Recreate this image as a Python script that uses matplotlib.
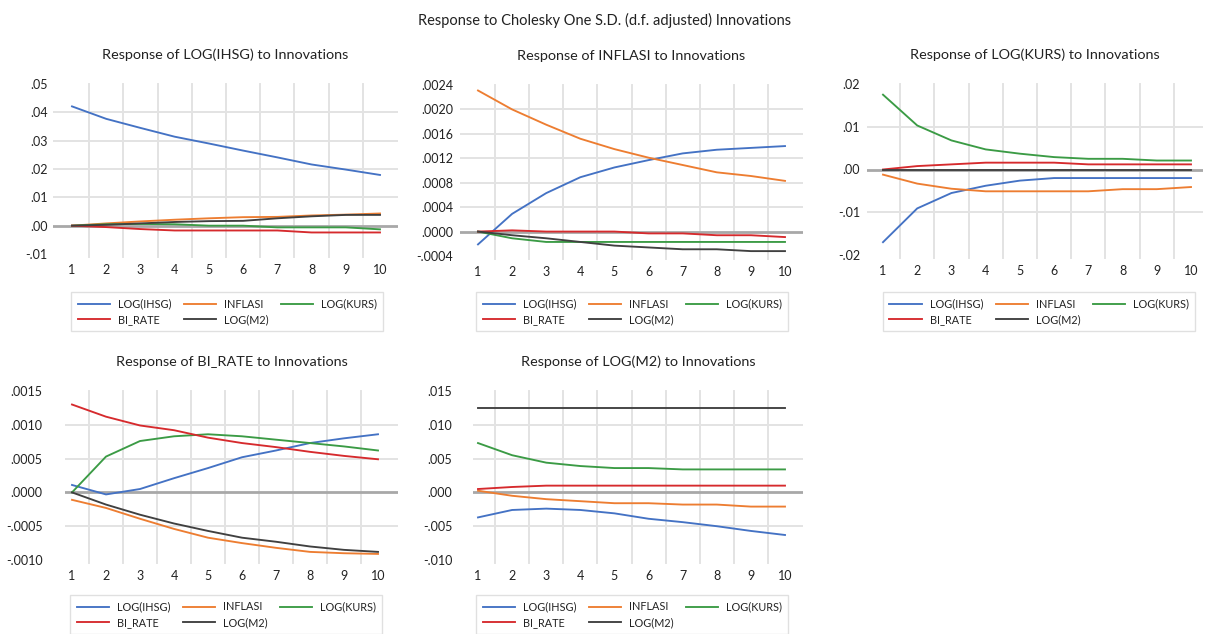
import matplotlib
matplotlib.use("Agg")
import matplotlib.pyplot as plt

plt.rcParams['font.family'] = ['Lato', 'DejaVu Sans']

periods = [1, 2, 3, 4, 5, 6, 7, 8, 9, 10]
shock_names = ["LOG(IHSG)", "INFLASI", "LOG(KURS)", "BI_RATE", "LOG(M2)"]
colors = ["#4472C4", "#ED7D31", "#3B9B45", "#D62A2D", "#404040"]

# Response of LOG(IHSG)
ihsg_ihsg = [0.0421, 0.0377, 0.0345, 0.0314, 0.0290, 0.0265, 0.0241, 0.0216, 0.0198, 0.0179]
ihsg_infl = [0.0, 0.0008, 0.0015, 0.0021, 0.0026, 0.0030, 0.0031, 0.0036, 0.0039, 0.0043]
ihsg_kurs = [0.0, 0.0005, 0.0006, 0.0005, 0.0, 0.0, -0.0006, -0.0006, -0.0006, -0.0013]
ihsg_bi = [0.0, -0.0005, -0.0012, -0.0017, -0.0017, -0.0017, -0.0017, -0.0024, -0.0024, -0.0024]
ihsg_m2 = [0.0, 0.0003, 0.0008, 0.0013, 0.0016, 0.0017, 0.0026, 0.0033, 0.0038, 0.0038]

# Response of INFLASI
infl_ihsg = [-0.00021, 0.00029, 0.00063, 0.00089, 0.00105, 0.00117, 0.00128, 0.00134, 0.00137, 0.00140]
infl_infl = [0.00231, 0.00200, 0.00175, 0.00152, 0.00135, 0.00121, 0.00109, 0.00097, 0.00091, 0.00083]
infl_kurs = [0.0, -0.00011, -0.00017, -0.00017, -0.00017, -0.00017, -0.00017, -0.00017, -0.00017, -0.00017]
infl_bi = [0.0, 0.00002, 0.0, 0.0, 0.0, -0.00003, -0.00003, -0.00006, -0.00006, -0.00009]
infl_m2 = [0.0, -0.00006, -0.00011, -0.00017, -0.00023, -0.00026, -0.00029, -0.00029, -0.00032, -0.00032]

# Response of LOG(KURS)
kurs_ihsg = [-0.0170, -0.0091, -0.0055, -0.0038, -0.0026, -0.0020, -0.0020, -0.0020, -0.0020, -0.0020]
kurs_infl = [-0.0012, -0.0033, -0.0045, -0.0051, -0.0051, -0.0051, -0.0051, -0.0046, -0.0046, -0.0041]
kurs_kurs = [0.0175, 0.0103, 0.0068, 0.0047, 0.0037, 0.0029, 0.0025, 0.0025, 0.0021, 0.0021]
kurs_bi = [0.0, 0.0008, 0.0012, 0.0016, 0.0016, 0.0016, 0.0012, 0.0012, 0.0012, 0.0012]
kurs_m2 = [0.0, 0.0, 0.0, 0.0, 0.0, 0.0, 0.0, 0.0, 0.0, 0.0]

# Response of BI_RATE
bi_ihsg = [0.00011, -0.00003, 0.00005, 0.00021, 0.00036, 0.00052, 0.00062, 0.00073, 0.00080, 0.00086]
bi_infl = [-0.00011, -0.00023, -0.00039, -0.00054, -0.00067, -0.00075, -0.00082, -0.00088, -0.00090, -0.00091]
bi_kurs = [0.0, 0.00053, 0.00076, 0.00083, 0.00086, 0.00083, 0.00078, 0.00073, 0.00068, 0.00062]
bi_bi = [0.00130, 0.00112, 0.00099, 0.00092, 0.00081, 0.00073, 0.00067, 0.00060, 0.00054, 0.00049]
bi_m2 = [0.0, -0.00018, -0.00033, -0.00046, -0.00057, -0.00067, -0.00073, -0.00080, -0.00085, -0.00088]

# Response of LOG(M2)
m2_ihsg = [-0.0037, -0.0026, -0.0024, -0.0026, -0.0031, -0.0039, -0.0044, -0.0050, -0.0057, -0.0063]
m2_infl = [0.00025, -0.0005, -0.0010, -0.0013, -0.0016, -0.0016, -0.0018, -0.0018, -0.0021, -0.0021]
m2_kurs = [0.0073, 0.0055, 0.0044, 0.0039, 0.0036, 0.0036, 0.0034, 0.0034, 0.0034, 0.0034]
m2_bi = [0.0005, 0.0008, 0.0010, 0.0010, 0.0010, 0.0010, 0.0010, 0.0010, 0.0010, 0.0010]
m2_m2 = [0.0125, 0.0125, 0.0125, 0.0125, 0.0125, 0.0125, 0.0125, 0.0125, 0.0125, 0.0125]

titles = ["Response of LOG(IHSG) to Innovations",
          "Response of INFLASI to Innovations",
          "Response of LOG(KURS) to Innovations",
          "Response of BI_RATE to Innovations",
          "Response of LOG(M2) to Innovations"]

panel_series = [
    [ihsg_ihsg, ihsg_infl, ihsg_kurs, ihsg_bi, ihsg_m2],
    [infl_ihsg, infl_infl, infl_kurs, infl_bi, infl_m2],
    [kurs_ihsg, kurs_infl, kurs_kurs, kurs_bi, kurs_m2],
    [bi_ihsg, bi_infl, bi_kurs, bi_bi, bi_m2],
    [m2_ihsg, m2_infl, m2_kurs, m2_bi, m2_m2],
]

y_ticks = [
    [-0.01, 0.0, 0.01, 0.02, 0.03, 0.04, 0.05],
    [-0.0004, 0.0, 0.0004, 0.0008, 0.0012, 0.0016, 0.0020, 0.0024],
    [-0.02, -0.01, 0.0, 0.01, 0.02],
    [-0.0010, -0.0005, 0.0, 0.0005, 0.0010, 0.0015],
    [-0.010, -0.005, 0.0, 0.005, 0.010, 0.015],
]
y_labels = [
    ["-.01", ".00", ".01", ".02", ".03", ".04", ".05"],
    ["-.0004", ".0000", ".0004", ".0008", ".0012", ".0016", ".0020", ".0024"],
    ["-.02", "-.01", ".00", ".01", ".02"],
    ["-.0010", "-.0005", ".0000", ".0005", ".0010", ".0015"],
    ["-.010", "-.005", ".000", ".005", ".010", ".015"],
]

W, H = 1210, 634
fig = plt.figure(figsize=(W / 100, H / 100), dpi=100)

# layout in pixels: (left, right, top, bottom, px at period 1, px at period 10)
layout = [
    (53, 398, 84, 254, 72, 380),
    (460, 803, 85, 256, 478, 785),
    (867, 1203, 84, 255, 883, 1191),
    (65, 398, 391, 560, 72, 378),
    (473, 803, 391, 560, 478, 785),
]
ylab_pad = [4, 5, 5, 16, 15]
legend_pos = [(71, 292), (476, 292), (883, 292), (70, 595), (476, 595)]

grid_c = "#E3E3E3"
zero_c = "#A8A8A8"

for i in range(5):
    l, r, t, b, p1, p10 = layout[i]
    ax = fig.add_axes([l / W, 1 - b / H, (r - l) / W, (b - t) / H])
    step = (p10 - p1) / 9.0
    xlo = 1 - (p1 - l) / step
    xhi = 10 + (r - p10) / step
    ax.set_xlim(xlo, xhi)
    yt = y_ticks[i]
    ax.set_ylim(yt[0], yt[-1])
    for s in ["top", "right", "bottom", "left"]:
        ax.spines[s].set_visible(False)
    for v in yt[1:-1]:
        if v == 0:
            continue
        ax.axhline(v, color=grid_c, lw=1.4, zorder=0)
    for k in range(1, 10):
        ax.axvline(k + 0.5, color=grid_c, lw=1.4, zorder=0, ymin=-0.02, clip_on=False)
    ax.axhline(0, color=zero_c, lw=2.0, zorder=1)
    handles = []
    for j in range(5):
        ln, = ax.plot(periods, panel_series[i][j], color=colors[j], lw=1.35,
                      label=shock_names[j], zorder=3)
        handles.append(ln)
    ax.set_xticks(periods)
    ax.set_xticklabels([str(p) for p in periods])
    ax.set_yticks(yt)
    ax.set_yticklabels(y_labels[i])
    ax.tick_params(axis="both", length=0, labelsize=9, colors="#222222")
    ax.tick_params(axis="x", pad=7)
    ax.tick_params(axis="y", pad=ylab_pad[i])
    ax.set_title(titles[i], fontsize=10.4, color="#222222", pad=18)
    order = [0, 3, 1, 4, 2]
    lx, ly = legend_pos[i]
    leg = ax.legend([handles[o] for o in order], [shock_names[o] for o in order],
                    ncol=3, loc="upper left",
                    bbox_to_anchor=(lx / W, 1 - ly / H), bbox_transform=fig.transFigure,
                    fontsize=7.8, frameon=True, fancybox=False,
                    handlelength=3.0, handletextpad=0.7, columnspacing=1.15,
                    borderpad=0.6, labelspacing=0.4, borderaxespad=0)
    leg.get_frame().set_edgecolor("#D9D9D9")
    leg.get_frame().set_linewidth(1.0)
    for txt in leg.get_texts():
        txt.set_color("#222222")

fig.text(605 / W, 1 - 20 / H, "Response to Cholesky One S.D. (d.f. adjusted) Innovations",
         ha="center", va="center", fontsize=10.5, color="#222222")

fig.savefig("out.png", dpi=100)
